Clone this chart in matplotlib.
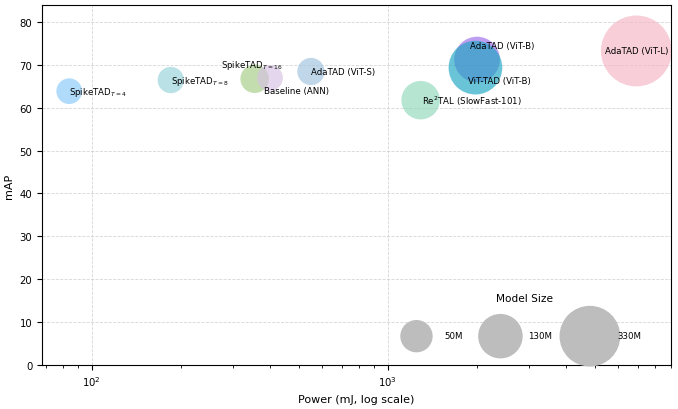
import numpy as np
import matplotlib.pyplot as plt

# model points: power (mJ), mAP, model size (M params)
models = ['SpikeTAD$_{T=4}$', 'SpikeTAD$_{T=8}$', 'SpikeTAD$_{T=16}$', 'Baseline (ANN)',
          'AdaTAD (ViT-S)', 'Re$^2$TAL (SlowFast-101)', 'AdaTAD (ViT-B)', 'ViT-TAD (ViT-B)',
          'AdaTAD (ViT-L)']
power = [84, 185, 355, 400, 550, 1290, 2000, 1975, 6900]
mAP = [63.9, 66.5, 66.8, 67.0, 68.5, 61.8, 71.3, 69.4, 73.3]
params = [25, 27, 34, 25, 30, 84, 140, 228, 526]
colors = ['#87c8f8', '#95d3da', '#a3cc85', '#d6c0e2', '#9fc2de', '#8fd8bb',
          '#9b6be8', '#1aa5c2', '#f5b5c4']
# label offsets in points (dx, dy) and alignment
label_off = [(0, 0), (0, 0), (-24, 10), (-4, -9), (0, 0), (1, 0), (-5, 10), (-5, -9), (0, 0)]
label_ha = ['left', 'left', 'left', 'left', 'left', 'left', 'left', 'left', 'center']

size_ticks = [50, 130, 330]
size_labels = ['50M', '130M', '330M']


def bubble(p):
    return 40 * np.asarray(p, dtype=float) ** (2 / 3)


fig = plt.figure(figsize=(6.78, 4.10), dpi=100)
ax = fig.add_axes([0.062, 0.108, 0.927, 0.877])

for i in range(len(models)):
    ax.scatter(power[i], mAP[i], s=bubble(params[i]), color=colors[i], alpha=0.65,
               edgecolors='none', zorder=3)
    ax.annotate(models[i], (power[i], mAP[i]), xytext=label_off[i], textcoords='offset points',
                ha=label_ha[i], va='center', fontsize=6.2, zorder=5)

ax.set_xscale('log')
ax.set_xlim(68, 9000)
ax.set_ylim(0, 84)
ax.set_yticks(np.arange(0, 81, 10))
ax.grid(True, which='major', linestyle='--', linewidth=0.6, color='#cccccc', alpha=0.8)
ax.set_axisbelow(True)
ax.tick_params(labelsize=7.3)
ax.set_xlabel('Power (mJ, log scale)', fontsize=8)
ax.set_ylabel('mAP', fontsize=8)

handles = [ax.scatter([], [], s=bubble(p), color='#bdbdbd', edgecolors='none') for p in size_ticks]
leg = ax.legend(handles, size_labels, title='Model Size', ncol=3, frameon=False,
                loc='lower right', bbox_to_anchor=(0.966, 0.046), fontsize=6.2,
                title_fontsize=7.6, handletextpad=2.2, columnspacing=3.4,
                labelspacing=3.3, scatterpoints=1)

fig.savefig('out.png', dpi=100)
